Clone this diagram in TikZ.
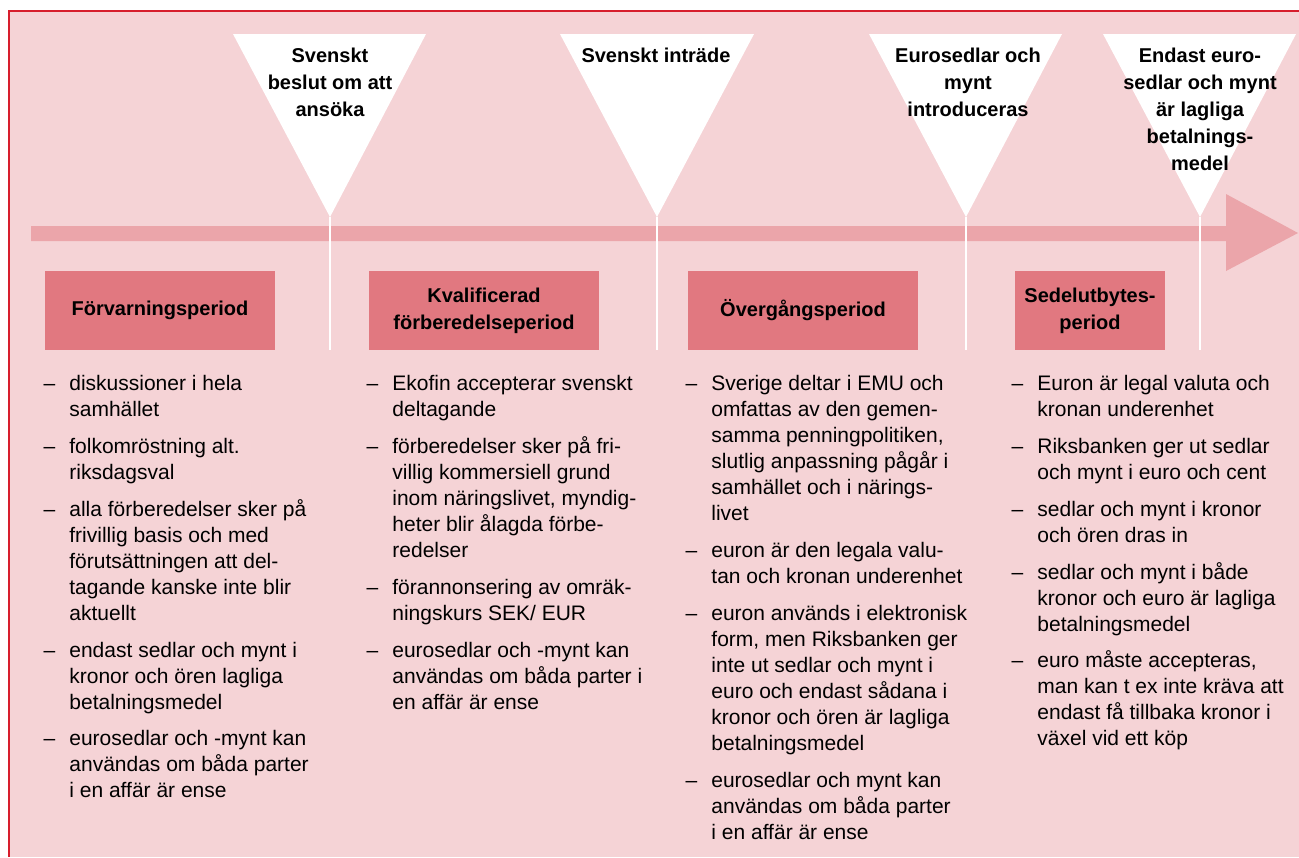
\documentclass[tikz,border=0pt]{standalone}
\usepackage{fontspec}
\setmainfont{Liberation Sans}
\usepackage{tikz}
\usetikzlibrary{positioning}
\definecolor{bgpink}{RGB}{245,211,214}
\definecolor{barpink}{RGB}{235,165,170}
\definecolor{boxpink}{RGB}{225,120,128}
\definecolor{framered}{RGB}{215,30,45}
\newcommand{\itemdash}{\llap{--\hspace{7pt}}}

\begin{document}
\begin{tikzpicture}[x=0.5pt, y=-0.5pt,
    period/.style={rectangle, fill=boxpink, minimum width=115pt, minimum height=39.5pt, inner sep=0pt, align=center, font=\fontsize{10}{13.5}\selectfont\bfseries},
    milestone/.style={anchor=north, inner sep=0pt, align=center, font=\fontsize{10}{13.5}\selectfont\bfseries},
    entry/.style={anchor=north west, inner sep=0pt, align=left, font=\fontsize{10.5}{13}\selectfont},
    marker/.style={fill=white},
    tick/.style={draw=white, line width=1pt}
]
\useasboundingbox (0,0) rectangle (1299,857);
\fill[bgpink] (9,11) rectangle (1299,857);
\draw[framered, line width=1.2pt] (1299,11) -- (9,11) -- (9,857);

% timeline arrow
\fill[barpink] (31,226) -- (1226,226) -- (1226,194) -- (1298,233) -- (1226,271) -- (1226,241) -- (31,241) -- cycle;

% milestones
\coordinate (t1) at (330,217);
\coordinate (t2) at (657,217);
\coordinate (t3) at (966,217);
\coordinate (t4) at (1200,217);
\coordinate (e1) at (330,350);
\coordinate (e2) at (657,350);
\coordinate (e3) at (966,350);
\coordinate (e4) at (1200,350);

\draw[tick] (t1) -- (e1);
\draw[tick] (t2) -- (e2);
\draw[tick] (t3) -- (e3);
\draw[tick] (t4) -- (e4);

\fill[marker] (233,34) -- (426,34) -- (t1) -- cycle;
\fill[marker] (560,34) -- (754,34) -- (t2) -- cycle;
\fill[marker] (869,34) -- (1062,34) -- (t3) -- cycle;
\fill[marker] (1103,34) -- (1296,34) -- (t4) -- cycle;

\node[milestone] (m1) at (330,43) {\strut Svenskt\\beslut om att\\ansöka};
\node[milestone] (m2) at (656,43) {\strut Svenskt inträde};
\node[milestone] (m3) at (968,43) {\strut Eurosedlar och\\mynt\\introduceras};
\node[milestone] (m4) at (1200,43) {\strut Endast euro-\\sedlar och mynt\\är lagliga\\betalnings-\\medel};

% periods
\node[period] (p1) at (160,310.5) {Förvarningsperiod};
\node[period] (p2) at (484,310.5) {Kvalificerad\\förberedelseperiod};
\node[period] (p3) at (803,310.5) {Övergångsperiod};
\node[period, minimum width=75pt] (p4) at (1090,310.5) {Sedelutbytes-\\period};

% column 1
\node[entry] (a1) at (69,372) {\strut\itemdash diskussioner i hela\\samhället\strut};
\node[entry, below right=5pt and 0pt of a1.south west] (a2) {\strut\itemdash folkomröstning alt.\\riksdagsval\strut};
\node[entry, below right=5pt and 0pt of a2.south west] (a3) {\strut\itemdash alla förberedelser sker på\\frivillig basis och med\\förutsättningen att del-\\tagande kanske inte blir\\aktuellt\strut};
\node[entry, below right=5pt and 0pt of a3.south west] (a4) {\strut\itemdash endast sedlar och mynt i\\kronor och ören lagliga\\betalningsmedel\strut};
\node[entry, below right=5pt and 0pt of a4.south west] (a5) {\strut\itemdash eurosedlar och -mynt kan\\användas om båda parter\\i en affär är ense\strut};

% column 2
\node[entry] (b1) at (392,372) {\strut\itemdash Ekofin accepterar svenskt\\deltagande\strut};
\node[entry, below right=5pt and 0pt of b1.south west] (b2) {\strut\itemdash förberedelser sker på fri-\\villig kommersiell grund\\inom näringslivet, myndig-\\heter blir ålagda förbe-\\redelser\strut};
\node[entry, below right=5pt and 0pt of b2.south west] (b3) {\strut\itemdash förannonsering av omräk-\\ningskurs SEK/ EUR\strut};
\node[entry, below right=5pt and 0pt of b3.south west] (b4) {\strut\itemdash eurosedlar och -mynt kan\\användas om båda parter i\\en affär är ense\strut};

% column 3
\node[entry] (c1) at (711,372) {\strut\itemdash Sverige deltar i EMU och\\omfattas av den gemen-\\samma penningpolitiken,\\slutlig anpassning pågår i\\samhället och i närings-\\livet\strut};
\node[entry, below right=5pt and 0pt of c1.south west] (c2) {\strut\itemdash euron är den legala valu-\\tan och kronan underenhet\strut};
\node[entry, below right=5pt and 0pt of c2.south west] (c3) {\strut\itemdash euron används i elektronisk\\form, men Riksbanken ger\\inte ut sedlar och mynt i\\euro och endast sådana i\\kronor och ören är lagliga\\betalningsmedel\strut};
\node[entry, below right=5pt and 0pt of c3.south west] (c4) {\strut\itemdash eurosedlar och mynt kan\\användas om båda parter\\i en affär är ense\strut};

% column 4
\node[entry] (d1) at (1037,372) {\strut\itemdash Euron är legal valuta och\\kronan underenhet\strut};
\node[entry, below right=5pt and 0pt of d1.south west] (d2) {\strut\itemdash Riksbanken ger ut sedlar\\och mynt i euro och cent\strut};
\node[entry, below right=5pt and 0pt of d2.south west] (d3) {\strut\itemdash sedlar och mynt i kronor\\och ören dras in\strut};
\node[entry, below right=5pt and 0pt of d3.south west] (d4) {\strut\itemdash sedlar och mynt i både\\kronor och euro är lagliga\\betalningsmedel\strut};
\node[entry, below right=5pt and 0pt of d4.south west] (d5) {\strut\itemdash euro måste accepteras,\\man kan t ex inte kräva att\\endast få tillbaka kronor i\\växel vid ett köp\strut};

\end{tikzpicture}
\end{document}
